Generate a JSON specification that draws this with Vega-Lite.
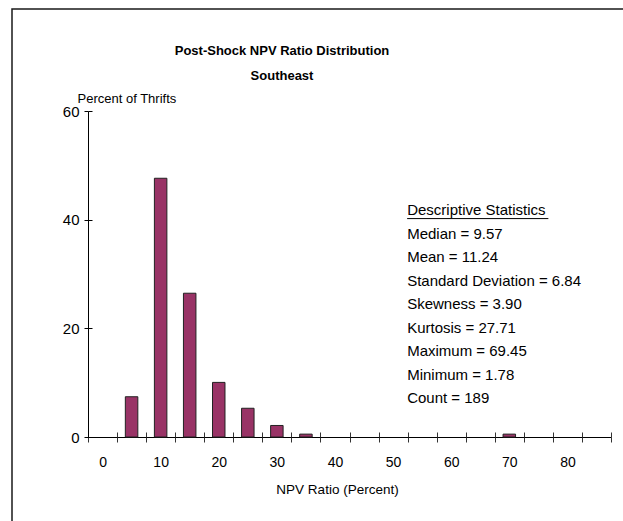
{
  "$schema": "https://vega.github.io/schema/vega-lite/v6.json",
  "autosize": "none",
  "padding": {"left": 12, "top": 9, "right": 0, "bottom": 0},
  "width": 616,
  "height": 517,
  "background": "white",
  "config": {"view": {"stroke": "#1a1a1a", "strokeWidth": 1.5}, "font": "Liberation Sans"},
  "title": {
    "text": ["Post-Shock NPV Ratio Distribution", "Southeast"],
    "fontSize": 13,
    "fontWeight": "bold",
    "font": "Liberation Sans",
    "color": "#000",
    "anchor": "middle",
    "frame": "group",
    "orient": "top",
    "baseline": "top",
    "offset": -34,
    "dx": -38,
    "dy": 40,
    "lineHeight": 25
  },
  "data": {
    "values": [
      {"bin": 5, "pct": 7.41},
      {"bin": 10, "pct": 47.62},
      {"bin": 15, "pct": 26.46},
      {"bin": 20, "pct": 10.05},
      {"bin": 25, "pct": 5.29},
      {"bin": 30, "pct": 2.12},
      {"bin": 35, "pct": 0.53},
      {"bin": 70, "pct": 0.53}
    ]
  },
  "resolve": {"axis": {"x": "independent", "y": "independent"}},
  "layer": [
    {
      "mark": {"type": "bar", "fill": "#993366", "stroke": "#222", "strokeWidth": 1, "width": {"band": 0.43}},
      "encoding": {
        "x": {
          "field": "bin",
          "type": "ordinal",
          "scale": {"domain": [0,5,10,15,20,25,30,35,40,45,50,55,60,65,70,75,80,85], "range": [76, 599], "paddingInner": 0, "paddingOuter": 0},
          "axis": {
            "orient": "bottom",
            "offset": -89,
            "tickBand": "extent",
            "tickSize": 5,
            "tickColor": "#333",
            "domainColor": "#000",
            "labelExpr": "datum.value % 10 === 0 ? datum.label : ''",
            "labelAngle": 0,
            "labelFontSize": 14,
            "labelColor": "#000",
            "labelPadding": 13,
            "title": "NPV Ratio (Percent)",
            "titleFontSize": 13.5,
            "titleFontWeight": "normal",
            "titleColor": "#000",
            "titleX": 325,
            "titleY": 52,
            "titleAlign": "center",
            "titleBaseline": "middle",
            "grid": false
          }
        },
        "y": {
          "field": "pct",
          "type": "quantitative",
          "scale": {"domain": [0, 60], "range": [428, 102]},
          "axis": {
            "orient": "left",
            "offset": -76,
            "values": [0, 20, 40, 60],
            "tickSize": 4,
            "tickColor": "#000",
            "domainColor": "#000",
            "labelFontSize": 15,
            "labelColor": "#000",
            "labelPadding": 5,
            "title": "Percent of Thrifts",
            "titleAngle": 0,
            "titleAlign": "left",
            "titleBaseline": "bottom",
            "titleX": -11,
            "titleY": 96,
            "titleFontSize": 13,
            "titleFontWeight": "normal",
            "titleColor": "#000",
            "grid": false
          }
        }
      }
    },
    {
      "mark": {"type": "bar", "opacity": 0},
      "encoding": {
        "x": {
          "field": "bin",
          "type": "ordinal",
          "axis": {
            "orient": "bottom",
            "offset": -89,
            "tickBand": "extent",
            "tickSize": -5,
            "tickColor": "#333",
            "domain": false,
            "labels": false,
            "title": null,
            "grid": false
          }
        },
        "y": {
          "field": "pct",
          "type": "quantitative",
          "axis": {
            "orient": "left",
            "offset": -76,
            "values": [0, 20, 40, 60],
            "tickSize": -4,
            "tickColor": "#000",
            "domain": false,
            "labels": false,
            "title": null,
            "grid": false
          }
        }
      }
    },
    {
      "data": {"values": [{}]},
      "mark": {"type": "text", "align": "left", "baseline": "top", "fontSize": 15, "fontWeight": "normal", "lineHeight": 23.5, "dx": -15, "color": "#000"},
      "encoding": {
        "x": {"datum": 55, "type": "ordinal", "axis": null},
        "y": {"datum": 43.0, "type": "quantitative", "axis": null},
        "text": {"value": ["Descriptive Statistics", "Median  = 9.57", "Mean = 11.24", "Standard Deviation = 6.84", "Skewness = 3.90", "Kurtosis = 27.71", "Maximum = 69.45", "Minimum = 1.78", "Count = 189"]}
      }
    },
    {
      "data": {"values": [{}]},
      "mark": {"type": "rule", "color": "#000", "strokeWidth": 1, "xOffset": -15, "x2Offset": 10},
      "encoding": {
        "x": {"datum": 55, "type": "ordinal", "axis": null},
        "x2": {"datum": 75},
        "y": {"datum": 40.2, "type": "quantitative", "axis": null}
      }
    }
  ]
}
